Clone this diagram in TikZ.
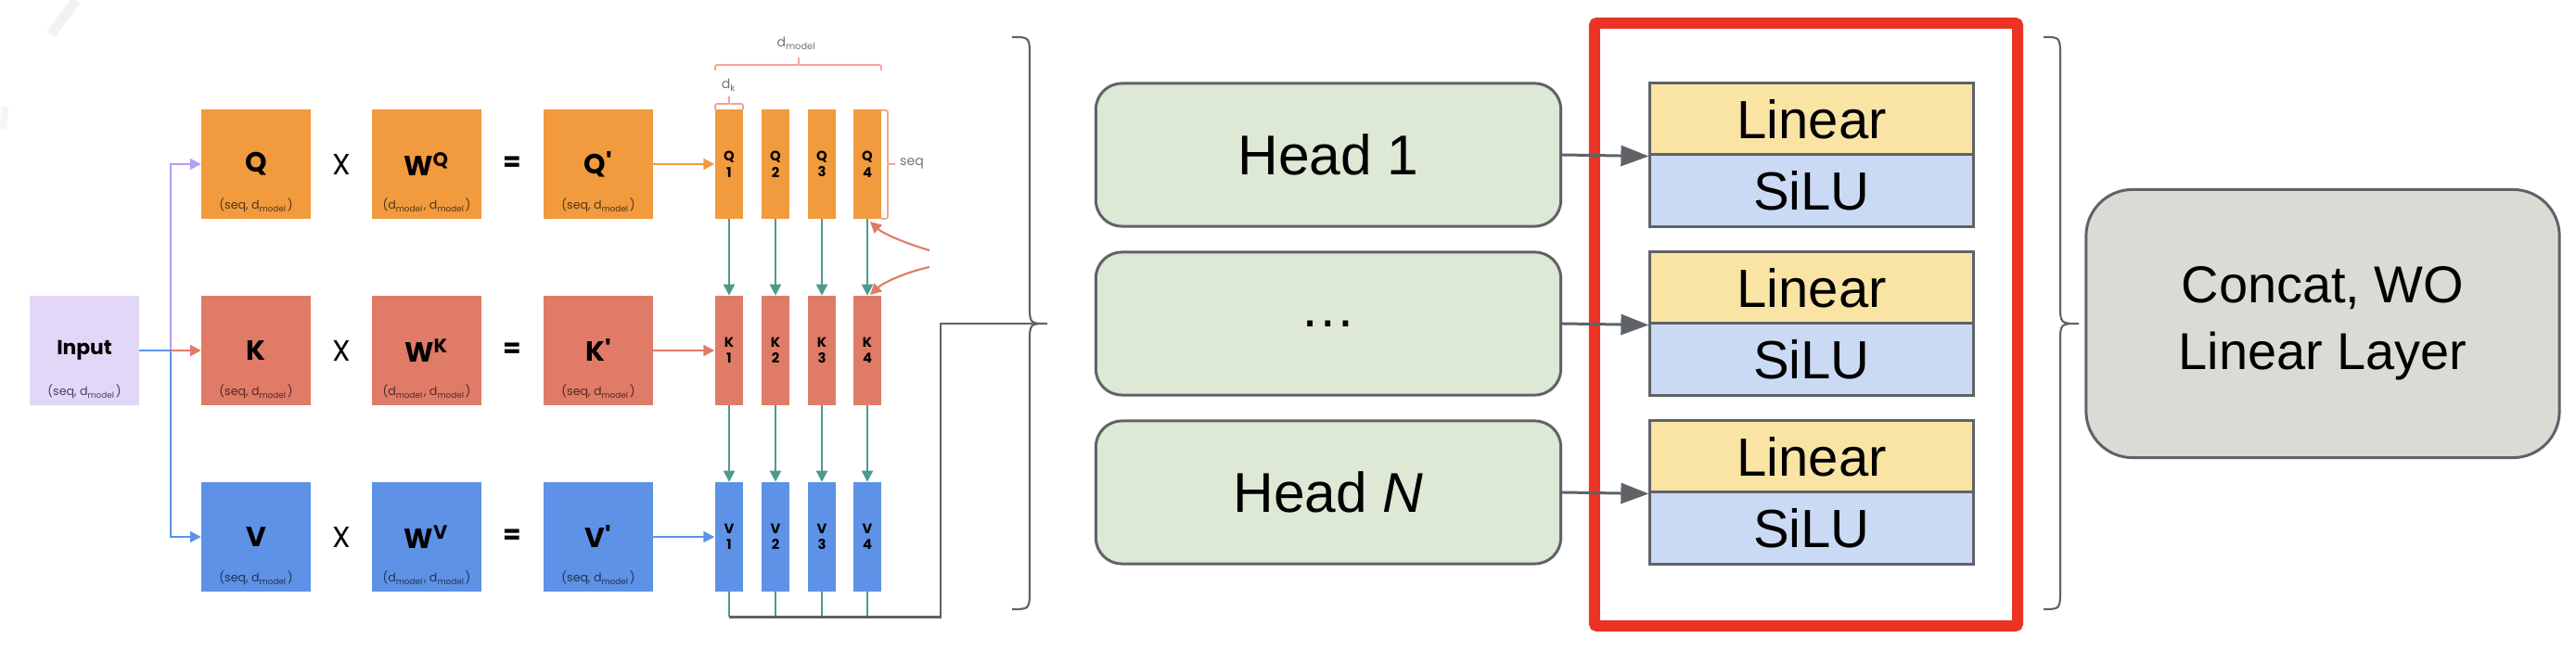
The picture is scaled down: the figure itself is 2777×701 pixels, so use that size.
\documentclass[tikz,border=0pt]{standalone}
\usepackage{fontspec}
\setmainfont{Liberation Sans}
\newfontfamily\geofont{Poppins}
\usetikzlibrary{arrows.meta}

\definecolor{qorange}{HTML}{F19A3E}
\definecolor{ksalmon}{HTML}{E07B67}
\definecolor{vblue}{HTML}{5D92E6}
\definecolor{inlilac}{HTML}{E3D7F7}
\definecolor{inpurple}{HTML}{B89CF3}
\definecolor{tealarr}{HTML}{4E9B8D}
\definecolor{bracketred}{HTML}{F0A596}
\definecolor{edgegray}{HTML}{5F6368}
\definecolor{headgreen}{HTML}{DDE8D5}
\definecolor{linyellow}{HTML}{F9E4A3}
\definecolor{silublue}{HTML}{CBDAF4}
\definecolor{concatgray}{HTML}{D9DCD5}
\definecolor{boxred}{HTML}{EA3324}

\tikzset{
  mat/.style={minimum width=1.17cm, minimum height=1.17cm, inner sep=0pt,
    font=\geofont\bfseries\fontsize{8.5pt}{9pt}\selectfont},
  subdim/.style={inner sep=0pt, font=\geofont\fontsize{3.6pt}{4pt}\selectfont},
  col/.style={minimum width=0.3cm, minimum height=1.17cm, inner sep=0pt, align=center,
    font=\geofont\bfseries\fontsize{4.2pt}{5pt}\selectfont},
  op/.style={inner sep=0pt, font=\geofont\fontsize{9pt}{10pt}\selectfont},
  dimlbl/.style={inner sep=0pt, text=black!55, font=\geofont\fontsize{4pt}{5pt}\selectfont},
  bracket/.style={bracketred, line width=0.5pt, rounded corners=0.02cm},
  flow/.style={line width=0.6pt, -{Triangle[length=0.12cm, width=0.12cm]}},
  head/.style={draw=edgegray, line width=0.85pt, fill=headgreen, rounded corners=0.28cm,
    minimum width=5.01cm, minimum height=1.54cm, font=\fontsize{17.2pt}{20pt}\selectfont},
  layer/.style={draw=edgegray, line width=0.85pt, minimum width=3.48cm, minimum height=0.77cm,
    inner sep=0pt, font=\fontsize{16.5pt}{20pt}\selectfont},
  link/.style={draw=edgegray, line width=0.85pt, -{Triangle[length=0.3cm, width=0.22cm]}},
  curly/.style={edgegray, line width=0.6pt},
}

\begin{document}
\begin{tikzpicture}[x=0.01cm, y=-0.01cm]
\useasboundingbox (0,0) rectangle (2777,701);

% faint marks at the top left
\draw[black!5, line width=3pt] (82,0) -- (55,37);
\draw[black!4, line width=2pt] (6,115) -- (3,140);

% Input
\node[mat, fill=inlilac, font=\geofont\bfseries\fontsize{6.2pt}{7pt}\selectfont] (in) at (91,378) {Input};
\node[subdim, text=inpurple!40!black] (insub) at (91,422) {(seq, d\textsubscript{model})};
\coordinate (split) at (184,378);

% Q, K, V rows
\foreach \r/\c/\y in {Q/qorange/177, K/ksalmon/378, V/vblue/579} {
  \node[mat, fill=\c] (\r) at (276,\y) {\r};
  \node[subdim, text=\c!35!black] (\r sub) at (276,\y+44) {(seq, d\textsubscript{model})};
  \node[op] (times\r) at (368,\y) {X};
  \node[mat, fill=\c] (W\r) at (460,\y) {W\textsuperscript{\r}};
  \node[subdim, text=\c!35!black] (W\r sub) at (460,\y+44) {(d\textsubscript{model}, d\textsubscript{model})};
  \node[op, font=\geofont\bfseries\fontsize{8pt}{9pt}\selectfont] (eq\r) at (552,\y) {=};
  \node[mat, fill=\c] (\r p) at (645,\y) {\r'};
  \node[subdim, text=\c!35!black] (\r psub) at (645,\y+44) {(seq, d\textsubscript{model})};
  % split into heads
  \foreach \i/\x in {1/786, 2/836, 3/886, 4/935}
    \node[col, fill=\c] (\r\i) at (\x,\y) {\r\\\i};
  \draw[flow, \c] (\r p.east) -- (\r1.west);
}

% Input to Q, K, V
\draw[flow, inpurple] (split) |- (Q.west);
\draw[flow, vblue] (split) |- (V.west);
\draw[flow, ksalmon] (split) -- (K.west);
\draw[vblue, line width=0.6pt] (in.east) -- (split);

% columns down
\foreach \i in {1,...,4} {
  \draw[flow, tealarr] (Q\i.south) -- (K\i.north);
  \draw[flow, tealarr] (K\i.south) -- (V\i.north);
  \draw[tealarr, line width=0.6pt] (V\i.south) -- ++(0,27) coordinate (vb\i);
}

% dimensions
\draw[bracket] (771,76) |- (861,70) -- (861,62);
\draw[bracket] (861,70) -| (950,76);
\node[dimlbl] (dmodel) at (859,47) {d\textsubscript{model}};
\draw[bracket] (771,118) |- (786,112) -- (786,104);
\draw[bracket] (786,112) -| (801,118);
\node[dimlbl] (dk) at (786,92) {d\textsubscript{k}};
\draw[bracket] (950,119) -| (957,177) -- (965,177);
\draw[bracket] (957,177) |- (950,236);
\node[dimlbl] (seqlbl) at (983,176) {seq};

% curved arrows on the right
\coordinate (cq) at (938,239);
\coordinate (ck) at (938,318);
\draw[flow, ksalmon] (1002,270) .. controls (975,262) and (952,252) .. (cq);
\draw[flow, ksalmon] (1002,288) .. controls (975,294) and (952,305) .. (ck);

% gather the heads
\coordinate (turn) at (1014,349);
\coordinate (ltip) at (1129,349);
\draw[edgegray, line width=0.8pt] (vb1) -| (turn) -- (ltip);
\draw[curly] (1091,40) .. controls (1110,40) .. (1110,62) -- (1110,328)
  .. controls (1110,349) .. (ltip) .. controls (1110,349) .. (1110,370)
  -- (1110,635) .. controls (1110,657) .. (1091,657);

% heads
\node[head] (H1) at (1432,167) {Head 1};
\node[head] (H2) at (1432,349) {…};
\node[head] (H3) at (1432,531) {Head \textit{N}};

% highlighted Linear + SiLU
\node[draw=boxred, line width=3.4pt, rounded corners=0.03cm, minimum width=4.56cm,
  minimum height=6.5cm] (frame) at (1947,350) {};
\foreach \k/\y in {1/167, 2/349, 3/531} {
  \node[layer, fill=linyellow] (L\k) at (1953,\y-38.5) {Linear};
  \node[layer, fill=silublue] (S\k) at (1953,\y+38.5) {SiLU};
  \draw[link] (H\k.east) -- (L\k.south west);
}

% concat
\draw[curly] (2203,40) .. controls (2221,40) .. (2221,62) -- (2221,328)
  .. controls (2221,349) .. (2241,349) .. controls (2221,349) .. (2221,370)
  -- (2221,635) .. controls (2221,657) .. (2203,657);
\node[draw=edgegray, line width=0.85pt, fill=concatgray, rounded corners=0.5cm,
  minimum width=5.1cm, minimum height=2.89cm, align=center,
  font=\fontsize{15.9pt}{20.5pt}\selectfont] (concat) at (2504,349) {Concat, WO\\Linear Layer};
\end{tikzpicture}
\end{document}
